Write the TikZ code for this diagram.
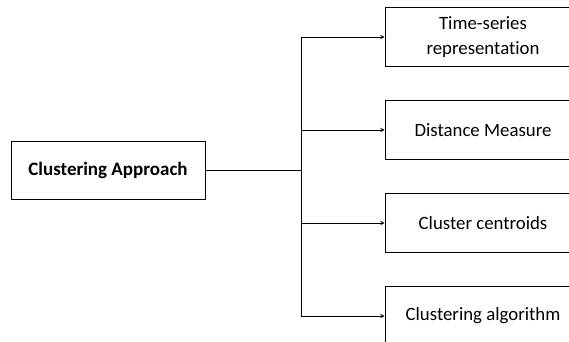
\documentclass[tikz,border=0pt]{standalone}
\usepackage{fontspec}
\setmainfont{Carlito}[Ligatures=NoCommon]
\usetikzlibrary{arrows, positioning}
\tikzset{>=stealth}

\begin{document}
\begin{tikzpicture}[x=1pt, y=-1pt, line width=0.9pt,
    stage/.style={draw, minimum width=196pt, minimum height=59pt, align=center, font=\fontsize{18.8}{24.5}\selectfont}]
            \useasboundingbox (0,0) rectangle (569,341);
            \clip (0,0) rectangle (569,341);
            \node[draw, minimum width=194pt, minimum height=58pt, font=\fontsize{19}{23}\selectfont\bfseries] (A) at (108,170) {Clustering Approach};
            \node[stage] (B) at (483,37) {Time-series\\representation};
            \node[stage] (C) at (483,130) {Distance Measure};
            \node[stage] (D) at (483,223) {Cluster centroids};
            \node[stage] (E) at (483,316) {Clustering algorithm};
            \coordinate (J) at (301,170);

            \draw (A)--(J);
            \draw[->] (J)|-(B);
            \draw[->] (J)|-(C);
            \draw[->] (J)|-(D);
            \draw[->] (J)|-(E);
    \end{tikzpicture}
\end{document}
